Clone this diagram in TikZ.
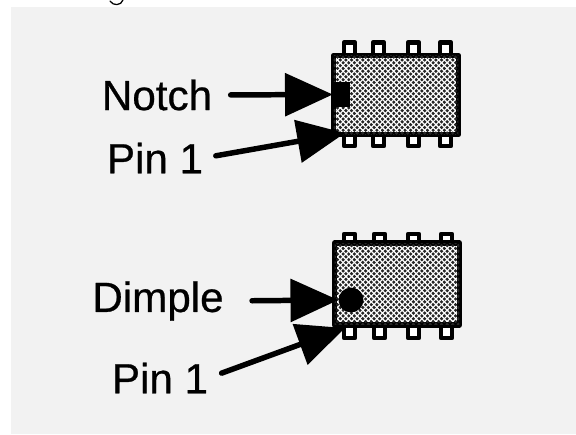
\documentclass[tikz,border=0pt]{standalone}
\usepackage{fontspec}
\newfontfamily\lblfont[FakeBold=0.6]{Liberation Sans}
\usetikzlibrary{arrows.meta,patterns}
\pgfdeclarepatternformonly{chipdots}{\pgfqpoint{-1pt}{-1pt}}{\pgfqpoint{5pt}{5pt}}{\pgfqpoint{4pt}{4pt}}{
  \pgfpathcircle{\pgfqpoint{0pt}{0pt}}{1.25pt}
  \pgfpathcircle{\pgfqpoint{2pt}{2pt}}{1.25pt}
  \pgfusepath{fill}
}
\tikzset{
  chipbody/.style={draw=black,line width=3.9pt,rectangle,minimum width=3.12cm,inner sep=0pt,fill=white,postaction={pattern=chipdots,pattern color=black!85}},
  chippin/.style={draw=black,line width=3.4pt,fill=white},
  lbl/.style={font=\lblfont\fontsize{30}{30}\selectfont,text=black,inner sep=0pt},
  pointer/.style={line width=3.9pt,black,-{Triangle[length=34pt,width=30pt]}}
}
\begin{document}
\begin{tikzpicture}[line cap=round,line join=round,x=0.025cm,y=-0.025cm]
  \useasboundingbox (0,0) rectangle (576,434);
  \fill [black!5] (11,7) rectangle (576,434);
  % tail of the cut off line above
  \draw [line width=0.9pt] (110,1)  .. controls (113,6) and (121,6) .. (123,0);
  % upper chip
  \foreach \px in {349.5,378.5,413.5,445.5}{
    \draw [chippin] (\px-5.5,42.5) rectangle (\px+5.5,60);
    \draw [chippin] (\px-5.5,128) rectangle (\px+5.5,146);
  }
  \node [chipbody,minimum height=1.975cm] (chipa) at (396,95) {};
  \node [fill=black,inner sep=0pt,minimum width=0.42cm,minimum height=0.62cm] (notchmark) at (341.5,94.5) {};
  \coordinate (pina) at (345,133);
  % lower chip
  \foreach \px in {349.5,379.5,413.5,446.5}{
    \draw [chippin] (\px-5.5,234) rectangle (\px+5.5,250);
    \draw [chippin] (\px-5.5,320) rectangle (\px+5.5,338);
  }
  \node [chipbody,minimum height=2.04cm] (chipb) at (397,284) {};
  \node [circle,fill=black,inner sep=0pt,minimum size=0.62cm] (dimple) at (351,300) {};
  \coordinate (pinb) at (345,328);
  % labels
  \node [lbl] (lblnotch) at (157,95) {Notch};
  \node [lbl] (lblpina) at (155,158) {Pin 1};
  \node [lbl] (lbldimple) at (158,301) {Dimple};
  \node [lbl] (lblpinb) at (160,378) {Pin 1};
  % arrows
  \draw [pointer,shorten <=13pt] (lblnotch.east) -- (notchmark.west);
  \draw [pointer,shorten <=9pt] (lblpina.east) -- (pina);
  \draw [pointer,shorten <=20pt] (lbldimple.east) -- (dimple.west);
  \draw [pointer,shorten <=10pt] (lblpinb.east) -- (pinb);
\end{tikzpicture}
\end{document}
